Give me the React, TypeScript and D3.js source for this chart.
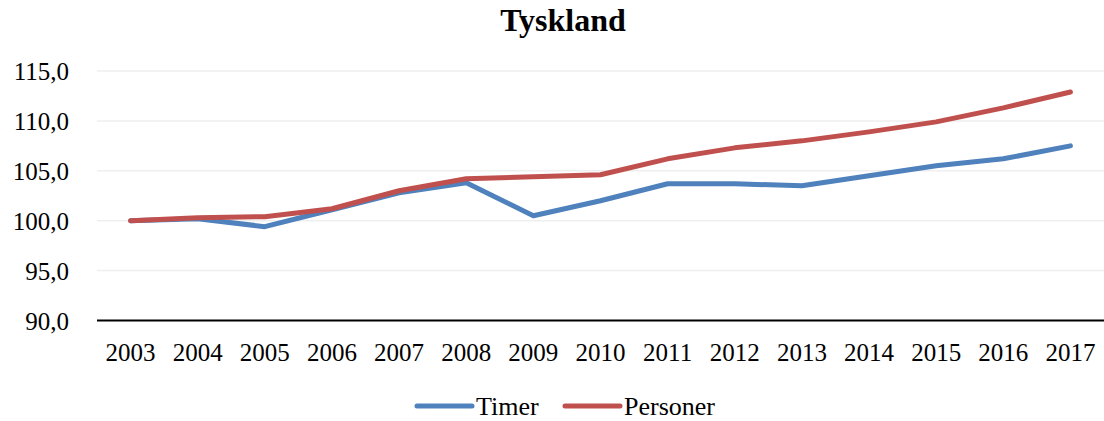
import * as React from "react";
import * as d3 from "d3";

const years: string[] = ["2003", "2004", "2005", "2006", "2007", "2008", "2009", "2010", "2011", "2012", "2013", "2014", "2015", "2016", "2017"];
const timer: number[] = [100.0, 100.2, 99.4, 101.1, 102.8, 103.8, 100.5, 102.0, 103.7, 103.7, 103.5, 104.5, 105.5, 106.2, 107.5];
const personer: number[] = [100.0, 100.3, 100.4, 101.2, 103.0, 104.2, 104.4, 104.6, 106.2, 107.3, 108.0, 108.9, 109.9, 111.3, 112.9];
const yTicks: number[] = [90, 95, 100, 105, 110, 115];

const blue: string = "#4f81bd";
const red: string = "#c0504d";
const font: string = "'Liberation Serif', 'Times New Roman', serif";

const width: number = 1104;
const height: number = 421;
const margin = { top: 71, right: 0, bottom: 100, left: 97 };

const fmt = (v: number): string => v.toFixed(1).replace(".", ",");

const App = (): JSX.Element => {
    const ref = React.useRef<SVGSVGElement>(null);

    React.useEffect(() => {
        const svg = d3.select(ref.current);
        svg.selectAll("*").remove();

        const plotW: number = width - margin.left - margin.right;
        const x = d3.scaleBand<string>().domain(years).range([margin.left, margin.left + plotW]);
        const y = d3.scaleLinear().domain([90, 115]).range([320.5, margin.top]);
        const cx = (d: string): number => (x(d) as number) + x.bandwidth() / 2;

        svg.append("text")
            .attr("x", 563)
            .attr("y", 31)
            .attr("text-anchor", "middle")
            .attr("font-family", font)
            .attr("font-weight", "bold")
            .attr("font-size", 32)
            .text("Tyskland");

        // gridlines
        svg.append("g")
            .selectAll("line")
            .data(yTicks.slice(1))
            .enter().append("line")
            .attr("x1", margin.left)
            .attr("x2", width)
            .attr("y1", (d: number) => y(d))
            .attr("y2", (d: number) => y(d))
            .attr("stroke", "#efefef")
            .attr("stroke-width", 1.5);

        svg.append("line")
            .attr("x1", margin.left)
            .attr("x2", width)
            .attr("y1", y(90))
            .attr("y2", y(90))
            .attr("stroke", "#000")
            .attr("stroke-width", 2);

        svg.append("g")
            .selectAll("text")
            .data(yTicks)
            .enter().append("text")
            .attr("x", 69)
            .attr("y", (d: number) => y(d) + 9)
            .attr("text-anchor", "end")
            .attr("font-family", font)
            .attr("font-size", 25)
            .text((d: number) => fmt(d));

        svg.append("g")
            .selectAll("text")
            .data(years)
            .enter().append("text")
            .attr("x", (d: string) => cx(d))
            .attr("y", 361)
            .attr("text-anchor", "middle")
            .attr("font-family", font)
            .attr("font-size", 25)
            .text((d: string) => d);

        const line = d3.line<number>()
            .x((_d: number, i: number) => cx(years[i]))
            .y((d: number) => y(d));

        const series = [
            { name: "Timer", values: timer, color: blue },
            { name: "Personer", values: personer, color: red }
        ];

        series.forEach((s) => {
            svg.append("path")
                .attr("d", line(s.values))
                .attr("fill", "none")
                .attr("stroke", s.color)
                .attr("stroke-width", 5)
                .attr("stroke-linecap", "round")
                .attr("stroke-linejoin", "round");
        });

        // legend
        const legendX: number[] = [417, 565];
        series.forEach((s, i: number) => {
            const g = svg.append("g").attr("transform", `translate(${legendX[i]}, 406)`);
            g.append("line")
                .attr("x1", 0)
                .attr("x2", 55)
                .attr("stroke", s.color)
                .attr("stroke-width", 5)
                .attr("stroke-linecap", "round");
            g.append("text")
                .attr("x", 59)
                .attr("y", 9)
                .attr("font-family", font)
                .attr("font-size", 26)
                .text(s.name);
        });
    }, []);

    return (
        <svg ref={ref} width={width} height={height}
            style={{ position: "absolute", left: 0, top: 0, background: "#fff" }} />
    );
};

export default App;
